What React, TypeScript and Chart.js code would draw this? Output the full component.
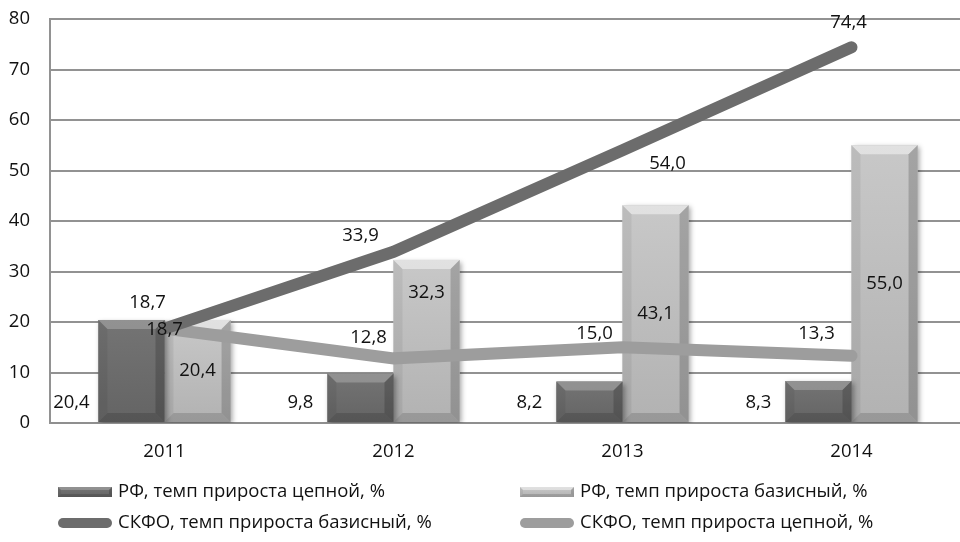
import React, { useEffect, useRef } from "react";
import { Chart, registerables } from "chart.js";

Chart.register(...registerables);

const categories = ["2011", "2012", "2013", "2014"];
const rfChain = [20.4, 9.8, 8.2, 8.3];
const rfBase = [20.4, 32.3, 43.1, 55.0];
const skfoBase = [18.7, 33.9, 54.0, 74.4];
const skfoChain = [18.7, 12.8, 15.0, 13.3];
const seriesNames = [
  "РФ, темп прироста цепной, %",
  "РФ, темп прироста базисный, %",
  "СКФО, темп прироста базисный, %",
  "СКФО, темп прироста цепной, %",
];
const yMin = 0;
const yMax = 80;
const yStep = 10;

const FONT_FAMILY = "'Open Sans', 'DejaVu Sans', sans-serif";
const FONT_SIZE = 18.5;
const TEXT_COLOR = "#111111";

const fmt = (v: number) => v.toFixed(1).replace(".", ",");

function drawBevelRect(
  ctx: CanvasRenderingContext2D,
  x0: number,
  y0: number,
  x1: number,
  y1: number,
  light: boolean,
  bevelSize: number
) {
  const w = x1 - x0;
  const h = y1 - y0;
  const b = Math.min(bevelSize, w / 2, h / 2);
  const g = ctx.createLinearGradient(0, y0, 0, y1);
  if (light) {
    g.addColorStop(0, "#c8c8c8");
    g.addColorStop(1, "#b2b2b2");
  } else {
    g.addColorStop(0, "#747474");
    g.addColorStop(1, "#646464");
  }
  ctx.fillStyle = g;
  ctx.fillRect(x0, y0, w, h);
  ctx.beginPath();
  ctx.moveTo(x0, y0);
  ctx.lineTo(x1, y0);
  ctx.lineTo(x1 - b, y0 + b);
  ctx.lineTo(x0 + b, y0 + b);
  ctx.closePath();
  ctx.fillStyle = light ? "rgba(255,255,255,0.45)" : "rgba(255,255,255,0.22)";
  ctx.fill();
  ctx.beginPath();
  ctx.moveTo(x0, y0);
  ctx.lineTo(x0 + b, y0 + b);
  ctx.lineTo(x0 + b, y1 - b);
  ctx.lineTo(x0, y1);
  ctx.closePath();
  ctx.fillStyle = "rgba(0,0,0,0.06)";
  ctx.fill();
  ctx.beginPath();
  ctx.moveTo(x1, y0);
  ctx.lineTo(x1 - b, y0 + b);
  ctx.lineTo(x1 - b, y1 - b);
  ctx.lineTo(x1, y1);
  ctx.closePath();
  ctx.fillStyle = "rgba(0,0,0,0.18)";
  ctx.fill();
  ctx.beginPath();
  ctx.moveTo(x0, y1);
  ctx.lineTo(x0 + b, y1 - b);
  ctx.lineTo(x1 - b, y1 - b);
  ctx.lineTo(x1, y1);
  ctx.closePath();
  ctx.fillStyle = "rgba(0,0,0,0.14)";
  ctx.fill();
}

const barBevelPlugin = {
  id: "barBevel",
  beforeDatasetDraw(chart: any, args: any) {
    if (args.meta.type !== "bar") return;
    const ctx = chart.ctx;
    ctx.save();
    ctx.shadowColor = "rgba(0,0,0,0.35)";
    ctx.shadowBlur = 5;
    ctx.shadowOffsetX = 2;
    ctx.shadowOffsetY = 2;
  },
  afterDatasetDraw(chart: any, args: any) {
    if (args.meta.type !== "bar") return;
    const ctx = chart.ctx;
    ctx.restore();
    const light = args.index === 1;
    ctx.save();
    args.meta.data.forEach((el: any) => {
      const p = el.getProps(["x", "y", "base", "width"], true);
      const x0 = p.x - p.width / 2;
      const x1 = p.x + p.width / 2;
      drawBevelRect(ctx, x0, Math.min(p.y, p.base), x1, Math.max(p.y, p.base), light, 9);
    });
    ctx.restore();
  },
};

const labelPlugin = {
  id: "valueLabels",
  afterDatasetsDraw(chart: any) {
    const ctx = chart.ctx;
    ctx.save();
    ctx.font = `${FONT_SIZE}px ${FONT_FAMILY}`;
    ctx.fillStyle = TEXT_COLOR;
    ctx.textAlign = "center";
    ctx.textBaseline = "middle";
    const lineOffsets: Record<number, number[][]> = {
      2: [[-17, -26], [-33, -16], [45, 13], [-3, -25]],
      3: [[0, 1], [-25, -21], [-28, -14], [-35, -22]],
    };
    const baseShift = [0, -48, 0, 0];
    chart.data.datasets.forEach((ds: any, di: number) => {
      const meta = chart.getDatasetMeta(di);
      meta.data.forEach((el: any, i: number) => {
        const v = ds.data[i] as number;
        const txt = fmt(v);
        if (di === 0) {
          const p = el.getProps(["x", "base", "width"], true);
          ctx.fillText(txt, p.x - p.width / 2 - 27, p.base - 19);
        } else if (di === 1) {
          const p = el.getProps(["x", "y", "base"], true);
          ctx.fillText(txt, p.x, (p.y + p.base) / 2 + baseShift[i]);
        } else {
          const off = lineOffsets[di][i];
          ctx.fillText(txt, el.x + off[0], el.y + off[1]);
        }
      });
    });
    ctx.restore();
  },
};

const legendPlugin = {
  id: "gridLegend",
  afterDraw(chart: any) {
    const ctx = chart.ctx;
    ctx.save();
    const cols = [58, 520];
    const rows = [492, 523];
    const mw = 54;
    chart.data.datasets.forEach((ds: any, di: number) => {
      const cx = cols[di % 2];
      const cy = rows[Math.floor(di / 2)];
      if (ds.type === "bar") {
        drawBevelRect(ctx, cx, cy - 5, cx + mw, cy + 5, di === 1, 3);
      } else {
        ctx.beginPath();
        ctx.strokeStyle = ds.borderColor;
        ctx.lineWidth = 10;
        ctx.lineCap = "round";
        ctx.moveTo(cx + 5, cy);
        ctx.lineTo(cx + mw - 5, cy);
        ctx.stroke();
      }
      ctx.font = `${FONT_SIZE}px ${FONT_FAMILY}`;
      ctx.fillStyle = TEXT_COLOR;
      ctx.textBaseline = "middle";
      ctx.textAlign = "left";
      ctx.fillText(ds.label, cx + mw + 6, cy);
    });
    ctx.restore();
  },
};

export default function App() {
  const ref = useRef<HTMLCanvasElement | null>(null);
  useEffect(() => {
    document.body.style.margin = "0";
    if (!ref.current) return;
    const font = { family: FONT_FAMILY, size: FONT_SIZE };
    const chart = new Chart(ref.current, {
      type: "bar",
      data: {
        labels: categories,
        datasets: [
          {
            type: "bar",
            label: seriesNames[0],
            data: rfChain,
            backgroundColor: "#6e6e6e",
            order: 2,
            barPercentage: 1,
            categoryPercentage: 0.577,
          },
          {
            type: "bar",
            label: seriesNames[1],
            data: rfBase,
            backgroundColor: "#c0c0c0",
            order: 2,
            barPercentage: 1,
            categoryPercentage: 0.577,
          },
          {
            type: "line",
            label: seriesNames[2],
            data: skfoBase,
            borderColor: "#6c6c6c",
            borderWidth: 12,
            pointRadius: 0,
            borderCapStyle: "round",
            borderJoinStyle: "miter",
            tension: 0,
            order: 1,
          },
          {
            type: "line",
            label: seriesNames[3],
            data: skfoChain,
            borderColor: "#9d9d9d",
            borderWidth: 12,
            pointRadius: 0,
            borderCapStyle: "round",
            borderJoinStyle: "miter",
            tension: 0,
            order: 1,
          },
        ] as any,
      },
      options: {
        responsive: false,
        animation: false,
        layout: { padding: { top: 19, right: 2, left: 0, bottom: 0 } },
        plugins: {
          legend: { display: false },
          tooltip: { enabled: false },
        },
        scales: {
          x: {
            grid: { display: false },
            border: { display: true, color: "#8f8f8f", width: 2 },
            ticks: { font, color: TEXT_COLOR, padding: 10 },
            afterFit: (s: any) => {
              s.height = 119;
            },
          },
          y: {
            min: yMin,
            max: yMax,
            ticks: { stepSize: yStep, font, color: TEXT_COLOR, padding: 0 },
            grid: {
              color: "#929292",
              lineWidth: 2,
              drawTicks: true,
              tickLength: 20,
              tickColor: "rgba(0,0,0,0)",
            },
            border: { display: true, color: "#929292", width: 2 },
            afterFit: (s: any) => {
              s.width = 50;
            },
          },
        },
      },
      plugins: [barBevelPlugin, labelPlugin, legendPlugin],
    });
    return () => chart.destroy();
  }, []);
  return (
    <div style={{ width: 960, height: 542, overflow: "hidden", position: "relative" }}>
      <canvas ref={ref} width={968} height={542} style={{ display: "block" }} />
    </div>
  );
}
